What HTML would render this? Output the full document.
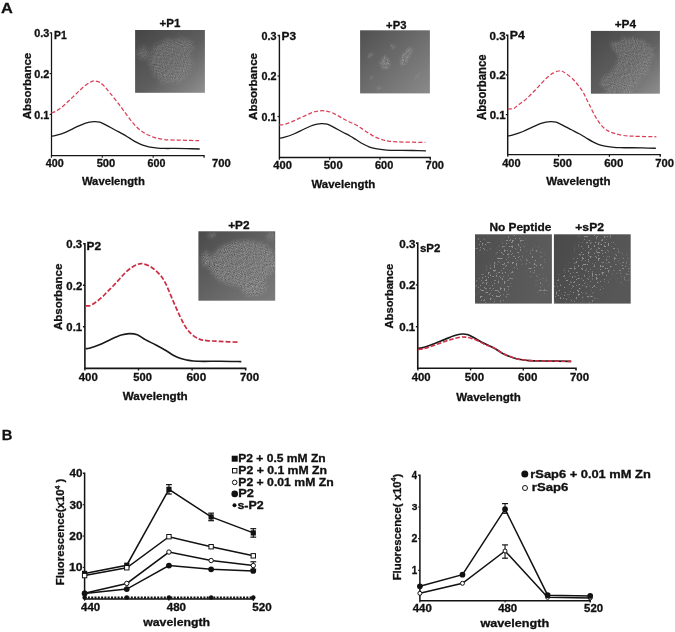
<!DOCTYPE html><html><head><meta charset="utf-8"><style>html,body{margin:0;padding:0;background:#fff;}svg{display:block;will-change:transform;}</style></head><body><svg width="675" height="632" viewBox="0 0 675 632" font-family='"Liberation Sans", sans-serif'><defs><linearGradient id="g1" x1="0" y1="0" x2="1" y2="1"><stop offset="0" stop-color="#454545"/><stop offset="0.55" stop-color="#5e5e5e"/><stop offset="1" stop-color="#909090"/></linearGradient><clipPath id="c1"><rect x="135.1" y="30" width="69.8" height="62.8"/></clipPath><filter id="d1" filterUnits="userSpaceOnUse" x="135.1" y="30" width="69.8" height="62.8" color-interpolation-filters="sRGB"><feTurbulence type="fractalNoise" baseFrequency="0.9" numOctaves="3" seed="1" result="n"/><feColorMatrix in="n" type="matrix" values="1 0 0 0 0  1 0 0 0 0  1 0 0 0 0  0 0 0 0 1" result="n1"/><feConvolveMatrix in="n1" order="3" kernelMatrix="1.0 0 0 0 0 0 0 0 -1.0" divisor="1" bias="0.5" preserveAlpha="true" result="e"/><feColorMatrix in="e" type="matrix" values="0.5 0 0 0 0.31000000000000005  0.5 0 0 0 0.31000000000000005  0.5 0 0 0 0.31000000000000005  0 0 0 0 1" result="g"/><feTurbulence type="fractalNoise" baseFrequency="0.12" numOctaves="2" seed="11" result="lf"/><feDisplacementMap in="SourceGraphic" in2="lf" scale="10" xChannelSelector="R" yChannelSelector="G" result="sd"/><feGaussianBlur in="sd" stdDeviation="2.5" result="m"/><feComposite in="g" in2="m" operator="in"/></filter><linearGradient id="g3" x1="0" y1="0" x2="1" y2="1"><stop offset="0" stop-color="#505050"/><stop offset="1" stop-color="#8a8a8a"/></linearGradient><clipPath id="c3"><rect x="360.1" y="30.3" width="69.8" height="63.1"/></clipPath><filter id="d3" filterUnits="userSpaceOnUse" x="360.1" y="30.3" width="69.8" height="63.1" color-interpolation-filters="sRGB"><feTurbulence type="fractalNoise" baseFrequency="0.9" numOctaves="3" seed="2" result="n"/><feColorMatrix in="n" type="matrix" values="1 0 0 0 0  1 0 0 0 0  1 0 0 0 0  0 0 0 0 1" result="n1"/><feConvolveMatrix in="n1" order="3" kernelMatrix="1.0 0 0 0 0 0 0 0 -1.0" divisor="1" bias="0.5" preserveAlpha="true" result="e"/><feColorMatrix in="e" type="matrix" values="0.5 0 0 0 0.31000000000000005  0.5 0 0 0 0.31000000000000005  0.5 0 0 0 0.31000000000000005  0 0 0 0 1" result="g"/><feTurbulence type="fractalNoise" baseFrequency="0.12" numOctaves="2" seed="12" result="lf"/><feDisplacementMap in="SourceGraphic" in2="lf" scale="3" xChannelSelector="R" yChannelSelector="G" result="sd"/><feGaussianBlur in="sd" stdDeviation="0.8" result="m"/><feComposite in="g" in2="m" operator="in"/></filter><linearGradient id="g4" x1="0" y1="0" x2="1" y2="1"><stop offset="0" stop-color="#474747"/><stop offset="0.55" stop-color="#606060"/><stop offset="1" stop-color="#8e8e8e"/></linearGradient><clipPath id="c4"><rect x="590.9" y="30.9" width="69" height="62.8"/></clipPath><filter id="d4" filterUnits="userSpaceOnUse" x="590.9" y="30.9" width="69" height="62.8" color-interpolation-filters="sRGB"><feTurbulence type="fractalNoise" baseFrequency="0.9" numOctaves="3" seed="3" result="n"/><feColorMatrix in="n" type="matrix" values="1 0 0 0 0  1 0 0 0 0  1 0 0 0 0  0 0 0 0 1" result="n1"/><feConvolveMatrix in="n1" order="3" kernelMatrix="1.0 0 0 0 0 0 0 0 -1.0" divisor="1" bias="0.5" preserveAlpha="true" result="e"/><feColorMatrix in="e" type="matrix" values="0.5 0 0 0 0.31000000000000005  0.5 0 0 0 0.31000000000000005  0.5 0 0 0 0.31000000000000005  0 0 0 0 1" result="g"/><feTurbulence type="fractalNoise" baseFrequency="0.12" numOctaves="2" seed="13" result="lf"/><feDisplacementMap in="SourceGraphic" in2="lf" scale="10" xChannelSelector="R" yChannelSelector="G" result="sd"/><feGaussianBlur in="sd" stdDeviation="1.5" result="m"/><feComposite in="g" in2="m" operator="in"/></filter><linearGradient id="g2" x1="0" y1="0" x2="1" y2="1"><stop offset="0" stop-color="#4a4a4a"/><stop offset="1" stop-color="#7c7c7c"/></linearGradient><clipPath id="c2"><rect x="198.4" y="231.3" width="76.8" height="69.4"/></clipPath><filter id="d2" filterUnits="userSpaceOnUse" x="198.4" y="231.3" width="76.8" height="69.4" color-interpolation-filters="sRGB"><feTurbulence type="fractalNoise" baseFrequency="0.9" numOctaves="3" seed="4" result="n"/><feColorMatrix in="n" type="matrix" values="1 0 0 0 0  1 0 0 0 0  1 0 0 0 0  0 0 0 0 1" result="n1"/><feConvolveMatrix in="n1" order="3" kernelMatrix="1.0 0 0 0 0 0 0 0 -1.0" divisor="1" bias="0.5" preserveAlpha="true" result="e"/><feColorMatrix in="e" type="matrix" values="0.5 0 0 0 0.31000000000000005  0.5 0 0 0 0.31000000000000005  0.5 0 0 0 0.31000000000000005  0 0 0 0 1" result="g"/><feTurbulence type="fractalNoise" baseFrequency="0.12" numOctaves="2" seed="14" result="lf"/><feDisplacementMap in="SourceGraphic" in2="lf" scale="3" xChannelSelector="R" yChannelSelector="G" result="sd"/><feGaussianBlur in="sd" stdDeviation="2" result="m"/><feComposite in="g" in2="m" operator="in"/></filter><linearGradient id="g5" x1="0" y1="0" x2="1" y2="0.3"><stop offset="0" stop-color="#4e4e4e"/><stop offset="1" stop-color="#5c5c5c"/></linearGradient><clipPath id="c5"><rect x="475" y="234.3" width="76.9" height="69.3"/></clipPath><filter id="d5" filterUnits="userSpaceOnUse" x="475" y="234.3" width="76.9" height="69.3" color-interpolation-filters="sRGB"><feTurbulence type="fractalNoise" baseFrequency="0.5" numOctaves="2" seed="5" result="n"/><feColorMatrix in="n" type="matrix" values="0 0 0 0 0.6  0 0 0 0 0.6  0 0 0 0 0.6  12 0 0 0 -7.4" result="g"/><feGaussianBlur in="SourceGraphic" stdDeviation="2.5" result="m"/><feComposite in="g" in2="m" operator="in"/></filter><linearGradient id="g6" x1="0" y1="0" x2="1" y2="0.3"><stop offset="0" stop-color="#494949"/><stop offset="1" stop-color="#575757"/></linearGradient><clipPath id="c6"><rect x="553.9" y="234.3" width="76.8" height="69.3"/></clipPath><filter id="d6" filterUnits="userSpaceOnUse" x="553.9" y="234.3" width="76.8" height="69.3" color-interpolation-filters="sRGB"><feTurbulence type="fractalNoise" baseFrequency="0.5" numOctaves="2" seed="6" result="n"/><feColorMatrix in="n" type="matrix" values="0 0 0 0 0.6  0 0 0 0 0.6  0 0 0 0 0.6  12 0 0 0 -7.4" result="g"/><feGaussianBlur in="SourceGraphic" stdDeviation="2.5" result="m"/><feComposite in="g" in2="m" operator="in"/></filter></defs><rect width="675" height="632" fill="#fff"/>
<text x="1.09" y="12.5" font-size="14.83" font-weight="bold" fill="#111" stroke="#111" stroke-width="0.3" textLength="11.84" lengthAdjust="spacingAndGlyphs">A</text>
<text x="1.71" y="439.5" font-size="14.39" font-weight="bold" fill="#111" stroke="#111" stroke-width="0.3" textLength="10.66" lengthAdjust="spacingAndGlyphs">B</text>
<path d="M49.7,32.8 H51.5 V155.5 H204.1 V157.7" fill="none" stroke="#151515" stroke-width="1.25"/>
<line x1="49.6" y1="114.4" x2="51.5" y2="114.4" stroke="#151515" stroke-width="1.06" />
<line x1="49.6" y1="73.6" x2="51.5" y2="73.6" stroke="#151515" stroke-width="1.06" />
<line x1="51.4" y1="155.5" x2="51.4" y2="157.7" stroke="#151515" stroke-width="1.06" />
<line x1="102.3" y1="155.5" x2="102.3" y2="157.7" stroke="#151515" stroke-width="1.06" />
<line x1="153.2" y1="155.5" x2="153.2" y2="157.7" stroke="#151515" stroke-width="1.06" />
<path d="M51.4,136.23 C52.15,136.11 53.34,136.23 55.88,135.49 C58.42,134.75 63.25,133.16 66.62,131.78 C69.99,130.4 72.92,128.66 76.09,127.21 C79.25,125.76 82.64,124.03 85.6,123.09 C88.57,122.15 91.53,121.73 93.9,121.58 C96.27,121.43 97.84,121.64 99.81,122.19 C101.77,122.74 103.15,123.59 105.71,124.89 C108.27,126.18 112.31,128.46 115.18,129.99 C118.05,131.52 120.52,132.71 122.91,134.07 C125.31,135.43 127.33,136.8 129.53,138.15 C131.74,139.49 133.96,140.97 136.15,142.14 C138.34,143.32 140.57,144.43 142.66,145.2 C144.76,145.98 146.53,146.36 148.72,146.8 C150.91,147.23 153.23,147.54 155.8,147.82 C158.36,148.09 160.93,148.32 164.09,148.43 C167.26,148.54 171.03,148.43 174.78,148.47 C178.53,148.5 182.43,148.54 186.59,148.63 C190.75,148.72 197.53,148.94 199.72,149" fill="none" stroke="#1a1a1a" stroke-width="1.3"/>
<path d="M51.4,112.97 C52.15,112.68 54.13,112.2 55.88,111.22 C57.63,110.24 59.9,108.67 61.89,107.1 C63.87,105.53 65.82,103.61 67.79,101.79 C69.76,99.98 71.73,98.09 73.69,96.2 C75.66,94.32 77.61,92.33 79.6,90.49 C81.58,88.66 83.62,86.67 85.6,85.19 C87.59,83.7 89.94,82.3 91.51,81.6 C93.08,80.9 93.64,80.85 95.02,80.98 C96.4,81.12 98.23,81.51 99.81,82.41 C101.38,83.32 102.9,84.77 104.49,86.41 C106.08,88.06 107.54,90.12 109.32,92.29 C111.11,94.45 113.22,96.92 115.18,99.39 C117.14,101.85 119.24,104.63 121.08,107.1 C122.92,109.57 124.39,111.73 126.22,114.2 C128.06,116.66 130.3,119.72 132.08,121.91 C133.86,124.09 135.12,125.61 136.91,127.29 C138.7,128.97 140.85,130.65 142.82,131.98 C144.78,133.32 146.56,134.3 148.72,135.29 C150.88,136.28 153.23,137.2 155.8,137.9 C158.36,138.6 160.93,139.12 164.09,139.49 C167.26,139.86 171.03,139.97 174.78,140.1 C178.53,140.24 182.54,140.21 186.59,140.31 C190.65,140.41 197.02,140.65 199.11,140.72" fill="none" stroke="#da3f58" stroke-width="1.25" stroke-dasharray="4.1 2.1"/>
<text x="34.27" y="37.42" font-size="11.14" font-weight="bold" fill="#111" stroke="#111" stroke-width="0.3" textLength="15.12" lengthAdjust="spacingAndGlyphs">0.3</text>
<text x="34.27" y="78.24" font-size="11.16" font-weight="bold" fill="#111" stroke="#111" stroke-width="0.3" textLength="15.17" lengthAdjust="spacingAndGlyphs">0.2</text>
<text x="34.27" y="119.04" font-size="11.16" font-weight="bold" fill="#111" stroke="#111" stroke-width="0.3" textLength="15.03" lengthAdjust="spacingAndGlyphs">0.1</text>
<text x="45.84" y="167.29" font-size="10.88" font-weight="bold" fill="#111" stroke="#111" stroke-width="0.3" textLength="17.9" lengthAdjust="spacingAndGlyphs">400</text>
<text x="96.66" y="167.29" font-size="10.88" font-weight="bold" fill="#111" stroke="#111" stroke-width="0.3" textLength="18.6" lengthAdjust="spacingAndGlyphs">500</text>
<text x="147.61" y="167.29" font-size="10.88" font-weight="bold" fill="#111" stroke="#111" stroke-width="0.3" textLength="17.83" lengthAdjust="spacingAndGlyphs">600</text>
<text x="212.12" y="167.29" font-size="10.88" font-weight="bold" fill="#111" stroke="#111" stroke-width="0.3" textLength="18.74" lengthAdjust="spacingAndGlyphs">700</text>
<text x="54.01" y="39.2" font-size="10.9" font-weight="bold" fill="#111" stroke="#111" stroke-width="0.3" textLength="12.68" lengthAdjust="spacingAndGlyphs">P1</text>
<text x="81.89" y="185.18" font-size="11.43" font-weight="bold" fill="#111" stroke="#111" stroke-width="0.3" textLength="62.91" lengthAdjust="spacingAndGlyphs">Wavelength</text>
<text x="30.89" y="119.29" font-size="11.71" font-weight="bold" fill="#111" stroke="#111" stroke-width="0.3" textLength="66.58" lengthAdjust="spacingAndGlyphs" transform="rotate(-90 30.89 119.29)">Absorbance</text>
<path d="M277.6,35.5 H279.4 V157.45 H430.3 V159.65" fill="none" stroke="#151515" stroke-width="1.4"/>
<line x1="277.5" y1="116.5" x2="279.4" y2="116.5" stroke="#151515" stroke-width="1.19" />
<line x1="277.5" y1="76" x2="279.4" y2="76" stroke="#151515" stroke-width="1.19" />
<line x1="279.4" y1="157.45" x2="279.4" y2="159.65" stroke="#151515" stroke-width="1.19" />
<line x1="329.7" y1="157.45" x2="329.7" y2="159.65" stroke="#151515" stroke-width="1.19" />
<line x1="380" y1="157.45" x2="380" y2="159.65" stroke="#151515" stroke-width="1.19" />
<path d="M279.4,138.17 C280.14,138.05 281.32,138.17 283.83,137.44 C286.33,136.7 291.11,135.12 294.44,133.75 C297.77,132.38 300.67,130.65 303.8,129.22 C306.92,127.78 310.27,126.06 313.2,125.13 C316.14,124.19 319.06,123.78 321.4,123.63 C323.74,123.48 325.29,123.69 327.24,124.24 C329.18,124.78 330.54,125.62 333.07,126.91 C335.6,128.2 339.59,130.45 342.43,131.97 C345.26,133.49 347.71,134.67 350.07,136.02 C352.44,137.37 354.43,138.73 356.61,140.07 C358.79,141.41 360.99,142.87 363.15,144.04 C365.31,145.21 367.52,146.31 369.59,147.08 C371.66,147.85 373.41,148.23 375.57,148.66 C377.74,149.09 380.03,149.4 382.57,149.67 C385.1,149.94 387.64,150.17 390.76,150.28 C393.89,150.38 397.62,150.28 401.33,150.32 C405.03,150.35 408.89,150.39 413,150.48 C417.1,150.57 423.81,150.78 425.97,150.84" fill="none" stroke="#1a1a1a" stroke-width="1.3"/>
<path d="M279.4,124.88 C280.15,124.85 282.12,125.08 283.88,124.68 C285.63,124.28 287.93,123.29 289.91,122.49 C291.9,121.7 293.84,120.79 295.8,119.9 C297.76,119.02 299.71,118.09 301.68,117.19 C303.65,116.29 305.63,115.37 307.62,114.52 C309.61,113.67 311.63,112.69 313.6,112.09 C315.58,111.48 317.52,111.11 319.49,110.91 C321.46,110.72 323.45,110.66 325.42,110.91 C327.39,111.16 329.33,111.66 331.31,112.41 C333.29,113.16 335.32,114.36 337.3,115.41 C339.27,116.45 341.13,117.59 343.18,118.69 C345.23,119.78 347.31,120.87 349.57,121.97 C351.82,123.07 354.42,124 356.71,125.29 C359,126.58 361.09,128.25 363.3,129.7 C365.51,131.15 367.76,132.67 369.99,134 C372.22,135.33 374.46,136.68 376.68,137.68 C378.9,138.68 381.1,139.39 383.32,139.99 C385.54,140.59 386.68,140.95 390.01,141.29 C393.34,141.62 397.4,141.83 403.29,142.01 C409.17,142.2 421.65,142.35 425.32,142.42" fill="none" stroke="#da3f58" stroke-width="1.25" stroke-dasharray="4.1 2.1"/>
<text x="261.57" y="39.88" font-size="10.99" font-weight="bold" fill="#111" stroke="#111" stroke-width="0.3" textLength="15.02" lengthAdjust="spacingAndGlyphs">0.3</text>
<text x="261.57" y="80.39" font-size="11.02" font-weight="bold" fill="#111" stroke="#111" stroke-width="0.3" textLength="15.06" lengthAdjust="spacingAndGlyphs">0.2</text>
<text x="261.58" y="120.89" font-size="11.02" font-weight="bold" fill="#111" stroke="#111" stroke-width="0.3" textLength="14.92" lengthAdjust="spacingAndGlyphs">0.1</text>
<text x="273.33" y="168.99" font-size="11.02" font-weight="bold" fill="#111" stroke="#111" stroke-width="0.3" textLength="18.63" lengthAdjust="spacingAndGlyphs">400</text>
<text x="323.85" y="168.99" font-size="11.02" font-weight="bold" fill="#111" stroke="#111" stroke-width="0.3" textLength="18.81" lengthAdjust="spacingAndGlyphs">500</text>
<text x="375" y="168.99" font-size="11.02" font-weight="bold" fill="#111" stroke="#111" stroke-width="0.3" textLength="18.25" lengthAdjust="spacingAndGlyphs">600</text>
<text x="425.53" y="168.99" font-size="11.02" font-weight="bold" fill="#111" stroke="#111" stroke-width="0.3" textLength="18.43" lengthAdjust="spacingAndGlyphs">700</text>
<text x="281.61" y="40.18" font-size="10.71" font-weight="bold" fill="#111" stroke="#111" stroke-width="0.3" textLength="14.52" lengthAdjust="spacingAndGlyphs">P3</text>
<text x="311.49" y="187.58" font-size="11.43" font-weight="bold" fill="#111" stroke="#111" stroke-width="0.3" textLength="63.82" lengthAdjust="spacingAndGlyphs">Wavelength</text>
<text x="257.39" y="119.99" font-size="11.44" font-weight="bold" fill="#111" stroke="#111" stroke-width="0.3" textLength="67.09" lengthAdjust="spacingAndGlyphs" transform="rotate(-90 257.39 119.99)">Absorbance</text>
<path d="M505.9,35.2 H507.7 V154.6 H660.2 V156.8" fill="none" stroke="#151515" stroke-width="1.45"/>
<line x1="505.8" y1="114.6" x2="507.7" y2="114.6" stroke="#151515" stroke-width="1.23" />
<line x1="505.8" y1="74.9" x2="507.7" y2="74.9" stroke="#151515" stroke-width="1.23" />
<line x1="507.8" y1="154.6" x2="507.8" y2="156.8" stroke="#151515" stroke-width="1.23" />
<line x1="558.6" y1="154.6" x2="558.6" y2="156.8" stroke="#151515" stroke-width="1.23" />
<line x1="609.4" y1="154.6" x2="609.4" y2="156.8" stroke="#151515" stroke-width="1.23" />
<path d="M507.8,135.84 C508.55,135.72 509.74,135.85 512.27,135.12 C514.8,134.4 519.63,132.86 522.99,131.51 C526.35,130.17 529.28,128.48 532.44,127.07 C535.6,125.66 538.97,123.97 541.94,123.06 C544.9,122.14 547.86,121.73 550.22,121.59 C552.58,121.44 554.15,121.65 556.11,122.18 C558.08,122.72 559.45,123.54 562,124.8 C564.56,126.07 568.59,128.28 571.45,129.77 C574.31,131.25 576.79,132.41 579.17,133.74 C581.56,135.06 583.58,136.4 585.78,137.71 C587.98,139.02 590.2,140.45 592.38,141.6 C594.57,142.74 596.79,143.82 598.88,144.57 C600.98,145.33 602.75,145.7 604.93,146.12 C607.11,146.55 609.43,146.85 611.99,147.11 C614.55,147.38 617.11,147.6 620.27,147.71 C623.43,147.82 627.2,147.72 630.94,147.75 C634.68,147.78 638.58,147.82 642.72,147.91 C646.87,147.99 653.65,148.21 655.83,148.27" fill="none" stroke="#1a1a1a" stroke-width="1.3"/>
<path d="M507.8,109.24 C508.33,109.18 509.98,109.01 511,108.88 C512.02,108.76 512.74,109.11 513.9,108.49 C515.05,107.86 516.26,106.36 517.91,105.11 C519.56,103.86 521.84,102.55 523.8,100.98 C525.77,99.41 527.73,97.58 529.69,95.7 C531.66,93.82 533.61,91.79 535.59,89.71 C537.57,87.62 539.6,85.27 541.58,83.2 C543.56,81.13 545.5,79 547.47,77.28 C549.45,75.57 551.56,73.96 553.42,72.92 C555.27,71.87 557.14,71.29 558.6,71.01 C560.06,70.73 560.87,70.76 562.16,71.25 C563.44,71.73 564.56,72.62 566.32,73.91 C568.08,75.2 570.83,77.19 572.72,78.99 C574.62,80.79 576.02,82.6 577.7,84.71 C579.38,86.81 581.3,89.2 582.78,91.61 C584.26,94.03 585.32,96.66 586.59,99.2 C587.86,101.73 589.13,104.28 590.4,106.82 C591.67,109.35 592.94,112.07 594.21,114.4 C595.48,116.73 596.56,118.68 598.02,120.79 C599.49,122.91 601.32,125.42 603,127.11 C604.68,128.79 606.18,129.86 608.08,130.92 C609.98,131.97 611.94,132.67 614.38,133.42 C616.82,134.17 619.56,134.94 622.71,135.4 C625.86,135.87 627.66,135.97 633.28,136.2 C638.89,136.43 652.54,136.69 656.39,136.79" fill="none" stroke="#da3f58" stroke-width="1.25" stroke-dasharray="4.1 2.1"/>
<text x="489.64" y="39.78" font-size="10.99" font-weight="bold" fill="#111" stroke="#111" stroke-width="0.3" textLength="16.08" lengthAdjust="spacingAndGlyphs">0.3</text>
<text x="489.64" y="79.49" font-size="11.02" font-weight="bold" fill="#111" stroke="#111" stroke-width="0.3" textLength="16.12" lengthAdjust="spacingAndGlyphs">0.2</text>
<text x="489.65" y="119.19" font-size="11.02" font-weight="bold" fill="#111" stroke="#111" stroke-width="0.3" textLength="15.97" lengthAdjust="spacingAndGlyphs">0.1</text>
<text x="502.13" y="166.79" font-size="11.3" font-weight="bold" fill="#111" stroke="#111" stroke-width="0.3" textLength="18.42" lengthAdjust="spacingAndGlyphs">400</text>
<text x="553.26" y="166.79" font-size="11.3" font-weight="bold" fill="#111" stroke="#111" stroke-width="0.3" textLength="18.6" lengthAdjust="spacingAndGlyphs">500</text>
<text x="604.18" y="166.79" font-size="11.3" font-weight="bold" fill="#111" stroke="#111" stroke-width="0.3" textLength="19.19" lengthAdjust="spacingAndGlyphs">600</text>
<text x="655.32" y="166.79" font-size="11.3" font-weight="bold" fill="#111" stroke="#111" stroke-width="0.3" textLength="18.74" lengthAdjust="spacingAndGlyphs">700</text>
<text x="509.88" y="39" font-size="11.05" font-weight="bold" fill="#111" stroke="#111" stroke-width="0.3" textLength="14.99" lengthAdjust="spacingAndGlyphs">P4</text>
<text x="546.19" y="184.78" font-size="11.43" font-weight="bold" fill="#111" stroke="#111" stroke-width="0.3" textLength="64.32" lengthAdjust="spacingAndGlyphs">Wavelength</text>
<text x="485.68" y="119.98" font-size="11.98" font-weight="bold" fill="#111" stroke="#111" stroke-width="0.3" textLength="65.47" lengthAdjust="spacingAndGlyphs" transform="rotate(-90 485.68 119.98)">Absorbance</text>
<path d="M83.1,243.7 H84.9 V368.35 H245.7 V370.55" fill="none" stroke="#151515" stroke-width="1.6"/>
<line x1="83" y1="326.7" x2="84.9" y2="326.7" stroke="#151515" stroke-width="1.36" />
<line x1="83" y1="285.2" x2="84.9" y2="285.2" stroke="#151515" stroke-width="1.36" />
<line x1="84.9" y1="368.35" x2="84.9" y2="370.55" stroke="#151515" stroke-width="1.36" />
<line x1="138.5" y1="368.35" x2="138.5" y2="370.55" stroke="#151515" stroke-width="1.36" />
<line x1="192.1" y1="368.35" x2="192.1" y2="370.55" stroke="#151515" stroke-width="1.36" />
<path d="M85.7,348.61 C86.3,348.56 86.91,348.95 89.3,348.28 C91.68,347.61 96.45,346.07 100.02,344.59 C103.58,343.11 107.14,341 110.68,339.4 C114.23,337.8 118.19,335.97 121.29,335 C124.39,334.03 126.61,333.64 129.28,333.59 C131.95,333.54 134.65,333.71 137.32,334.71 C139.99,335.71 142.2,337.89 145.31,339.61 C148.42,341.32 152.41,343.1 155.97,345 C159.54,346.9 163.81,349.32 166.69,351.02 C169.58,352.72 171.07,354 173.29,355.21 C175.5,356.42 177.75,357.49 179.99,358.28 C182.22,359.08 184.47,359.53 186.69,359.98 C188.9,360.44 190.39,360.79 193.28,361.02 C196.16,361.26 199.55,361.37 204,361.39 C208.45,361.42 213.75,361.15 219.97,361.19 C226.19,361.22 237.75,361.53 241.3,361.6" fill="none" stroke="#1a1a1a" stroke-width="1.6"/>
<path d="M85.7,305.7 C86.4,305.7 88.19,306.3 89.88,305.7 C91.58,305.1 93.9,303.47 95.89,302.09 C97.87,300.71 99.82,299.18 101.78,297.4 C103.75,295.62 105.71,293.41 107.68,291.42 C109.65,289.44 111.59,287.57 113.58,285.49 C115.56,283.42 117.6,281.14 119.58,278.98 C121.56,276.81 123.5,274.38 125.48,272.5 C127.45,270.62 129.45,269.02 131.42,267.69 C133.4,266.35 135.54,265.17 137.32,264.49 C139.1,263.81 140.11,263.37 142.09,263.62 C144.07,263.87 147.05,264.91 149.22,265.99 C151.39,267.06 153.15,268.43 155.12,270.09 C157.08,271.76 159.36,273.95 161.01,275.99 C162.66,278.02 163.75,279.91 165.03,282.29 C166.31,284.68 167.52,287.63 168.68,290.3 C169.84,292.97 170.78,295.43 172,298.31 C173.22,301.2 174.69,304.61 176.02,307.61 C177.35,310.61 178.66,313.54 179.99,316.32 C181.32,319.11 182.68,321.96 184.01,324.29 C185.34,326.62 186.43,328.43 187.97,330.31 C189.52,332.19 191.28,334.07 193.28,335.58 C195.28,337.1 197.75,338.56 199.98,339.4 C202.21,340.24 203.35,340.27 206.68,340.6 C210.01,340.93 214.54,341.11 219.97,341.39 C225.4,341.67 236.05,342.15 239.27,342.3" fill="none" stroke="#cc2c42" stroke-width="1.7" stroke-dasharray="4.8 2"/>
<text x="66.35" y="248.28" font-size="10.99" font-weight="bold" fill="#111" stroke="#111" stroke-width="0.3" textLength="15.86" lengthAdjust="spacingAndGlyphs">0.3</text>
<text x="66.35" y="289.79" font-size="11.02" font-weight="bold" fill="#111" stroke="#111" stroke-width="0.3" textLength="15.91" lengthAdjust="spacingAndGlyphs">0.2</text>
<text x="66.35" y="331.29" font-size="11.02" font-weight="bold" fill="#111" stroke="#111" stroke-width="0.3" textLength="15.76" lengthAdjust="spacingAndGlyphs">0.1</text>
<text x="78.73" y="381.19" font-size="11.3" font-weight="bold" fill="#111" stroke="#111" stroke-width="0.3" textLength="19.04" lengthAdjust="spacingAndGlyphs">400</text>
<text x="133.36" y="381.19" font-size="11.3" font-weight="bold" fill="#111" stroke="#111" stroke-width="0.3" textLength="18.6" lengthAdjust="spacingAndGlyphs">500</text>
<text x="186.57" y="381.19" font-size="11.3" font-weight="bold" fill="#111" stroke="#111" stroke-width="0.3" textLength="19.61" lengthAdjust="spacingAndGlyphs">600</text>
<text x="239.9" y="381.19" font-size="11.3" font-weight="bold" fill="#111" stroke="#111" stroke-width="0.3" textLength="19.27" lengthAdjust="spacingAndGlyphs">700</text>
<text x="86.6" y="250.2" font-size="10.88" font-weight="bold" fill="#111" stroke="#111" stroke-width="0.3" textLength="14.57" lengthAdjust="spacingAndGlyphs">P2</text>
<text x="122.69" y="400.08" font-size="11.43" font-weight="bold" fill="#111" stroke="#111" stroke-width="0.3" textLength="65.03" lengthAdjust="spacingAndGlyphs">Wavelength</text>
<text x="61.89" y="329.99" font-size="11.3" font-weight="bold" fill="#111" stroke="#111" stroke-width="0.3" textLength="66.28" lengthAdjust="spacingAndGlyphs" transform="rotate(-90 61.89 329.99)">Absorbance</text>
<path d="M415.95,243.1 H417.75 V368.2 H576 V370.4" fill="none" stroke="#151515" stroke-width="1.6"/>
<line x1="415.85" y1="326.7" x2="417.75" y2="326.7" stroke="#151515" stroke-width="1.36" />
<line x1="415.85" y1="284.9" x2="417.75" y2="284.9" stroke="#151515" stroke-width="1.36" />
<line x1="417.9" y1="368.2" x2="417.9" y2="370.4" stroke="#151515" stroke-width="1.36" />
<line x1="470.6" y1="368.2" x2="470.6" y2="370.4" stroke="#151515" stroke-width="1.36" />
<line x1="523.3" y1="368.2" x2="523.3" y2="370.4" stroke="#151515" stroke-width="1.36" />
<path d="M418.16,348.39 C418.8,348.31 419.6,348.58 422.01,347.89 C424.43,347.21 428.91,345.68 432.66,344.3 C436.4,342.92 440.91,341.03 444.46,339.62 C448.01,338.2 450.99,336.75 453.95,335.81 C456.91,334.88 459.86,334.18 462.22,334.01 C464.58,333.85 466.15,334.18 468.12,334.81 C470.1,335.44 471.52,336.44 474.08,337.82 C476.63,339.2 480.02,341.32 483.46,343.09 C486.9,344.85 491.44,346.62 494.74,348.39 C498.03,350.16 499.58,351.98 503.22,353.7 C506.87,355.42 512.16,357.57 516.61,358.72 C521.05,359.87 525.45,360.22 529.89,360.6 C534.32,360.98 536.33,360.89 543.22,361.02 C550.11,361.15 566.54,361.33 571.2,361.39" fill="none" stroke="#1a1a1a" stroke-width="1.7"/>
<path d="M418.16,349.61 C419.6,349.32 423.41,348.87 426.81,347.89 C430.21,346.91 434.62,345.09 438.56,343.71 C442.49,342.33 446.88,340.7 450.42,339.62 C453.96,338.53 457.23,337.6 459.8,337.19 C462.36,336.79 463.82,336.99 465.8,337.19 C467.79,337.39 469.55,337.72 471.71,338.4 C473.87,339.09 476.41,340.21 478.77,341.29 C481.13,342.37 483.22,343.7 485.88,344.88 C488.54,346.07 491.85,346.92 494.74,348.39 C497.63,349.86 499.58,351.98 503.22,353.7 C506.87,355.42 512.16,357.57 516.61,358.72 C521.05,359.87 525.45,360.22 529.89,360.6 C534.32,360.98 536.33,360.89 543.22,361.02 C550.11,361.15 566.54,361.33 571.2,361.39" fill="none" stroke="#d02f45" stroke-width="1.6" stroke-dasharray="4.6 1.9"/>
<text x="399.24" y="247.68" font-size="10.99" font-weight="bold" fill="#111" stroke="#111" stroke-width="0.3" textLength="16.18" lengthAdjust="spacingAndGlyphs">0.3</text>
<text x="399.24" y="289.49" font-size="11.02" font-weight="bold" fill="#111" stroke="#111" stroke-width="0.3" textLength="16.23" lengthAdjust="spacingAndGlyphs">0.2</text>
<text x="399.24" y="331.29" font-size="11.02" font-weight="bold" fill="#111" stroke="#111" stroke-width="0.3" textLength="16.08" lengthAdjust="spacingAndGlyphs">0.1</text>
<text x="411.73" y="380.59" font-size="11.44" font-weight="bold" fill="#111" stroke="#111" stroke-width="0.3" textLength="18.94" lengthAdjust="spacingAndGlyphs">400</text>
<text x="464.85" y="380.59" font-size="11.44" font-weight="bold" fill="#111" stroke="#111" stroke-width="0.3" textLength="19.23" lengthAdjust="spacingAndGlyphs">500</text>
<text x="518.08" y="380.59" font-size="11.44" font-weight="bold" fill="#111" stroke="#111" stroke-width="0.3" textLength="19.3" lengthAdjust="spacingAndGlyphs">600</text>
<text x="569.9" y="380.59" font-size="11.44" font-weight="bold" fill="#111" stroke="#111" stroke-width="0.3" textLength="19.27" lengthAdjust="spacingAndGlyphs">700</text>
<text x="419.9" y="251.79" font-size="11.3" font-weight="bold" fill="#111" stroke="#111" stroke-width="0.3" textLength="20.46" lengthAdjust="spacingAndGlyphs">sP2</text>
<text x="456.29" y="400.6" font-size="11.32" font-weight="bold" fill="#111" stroke="#111" stroke-width="0.3" textLength="64.42" lengthAdjust="spacingAndGlyphs">Wavelength</text>
<text x="393.2" y="328.38" font-size="10.21" font-weight="bold" fill="#111" stroke="#111" stroke-width="0.3" textLength="64.66" lengthAdjust="spacingAndGlyphs" transform="rotate(-90 393.2 328.38)">Absorbance</text>
<text x="159.52" y="26.8" font-size="10.9" font-weight="bold" fill="#111" stroke="#111" stroke-width="0.3" textLength="20.8" lengthAdjust="spacingAndGlyphs">+P1</text>
<text x="386.13" y="28.78" font-size="10.57" font-weight="bold" fill="#111" stroke="#111" stroke-width="0.3" textLength="20.28" lengthAdjust="spacingAndGlyphs">+P3</text>
<text x="614.7" y="28.1" font-size="11.05" font-weight="bold" fill="#111" stroke="#111" stroke-width="0.3" textLength="21.36" lengthAdjust="spacingAndGlyphs">+P4</text>
<text x="228.2" y="229.4" font-size="10.88" font-weight="bold" fill="#111" stroke="#111" stroke-width="0.3" textLength="21.37" lengthAdjust="spacingAndGlyphs">+P2</text>
<text x="489.4" y="230.62" font-size="10.51" font-weight="bold" fill="#111" stroke="#111" stroke-width="0.3" textLength="62.1" lengthAdjust="spacingAndGlyphs">No Peptide</text>
<text x="575.29" y="230.7" font-size="10.59" font-weight="bold" fill="#111" stroke="#111" stroke-width="0.3" textLength="28.7" lengthAdjust="spacingAndGlyphs">+sP2</text>
<rect x="135.1" y="30" width="69.8" height="62.8" fill="url(#g1)"/>
<g clip-path="url(#c1)"><g filter="url(#d1)" opacity="0.38">
<ellipse cx="171.4" cy="61.4" rx="20.94" ry="22.61" transform="rotate(-15 171.4 61.4)" fill="#fff"/>
<ellipse cx="178.38" cy="48.84" rx="15.36" ry="10.05" transform="rotate(-20 178.38 48.84)" fill="#fff"/>
<ellipse cx="142.08" cy="53.86" rx="4.89" ry="5.02" transform="rotate(0 142.08 53.86)" fill="#fff"/>
</g></g>
<rect x="360.1" y="30.3" width="69.8" height="63.1" fill="url(#g3)"/>
<g clip-path="url(#c3)"><g filter="url(#d3)" opacity="0.55">
<ellipse cx="385.23" cy="63.11" rx="4.89" ry="6.31" transform="rotate(0 385.23 63.11)" fill="#fff"/>
<ellipse cx="406.17" cy="56.8" rx="3.49" ry="10.73" transform="rotate(25 406.17 56.8)" fill="#fff"/>
<ellipse cx="370.57" cy="55.54" rx="1.4" ry="3.79" transform="rotate(30 370.57 55.54)" fill="#fff"/>
<ellipse cx="417.34" cy="76.99" rx="1.05" ry="4.42" transform="rotate(35 417.34 76.99)" fill="#fff"/>
<ellipse cx="371.97" cy="77.62" rx="0.84" ry="3.16" transform="rotate(0 371.97 77.62)" fill="#fff"/>
<ellipse cx="379.64" cy="88.35" rx="2.79" ry="1.26" transform="rotate(-20 379.64 88.35)" fill="#fff"/>
<ellipse cx="392.91" cy="46.08" rx="2.09" ry="2.52" transform="rotate(0 392.91 46.08)" fill="#fff"/>
</g></g>
<rect x="590.9" y="30.9" width="69" height="62.8" fill="url(#g4)"/>
<g clip-path="url(#c4)"><g filter="url(#d4)" opacity="0.36">
<polygon points="611.6,43.46 625.4,37.18 642.65,39.69 655.07,49.74 651.62,65.44 640.58,81.14 632.3,93.7 606.08,93.7 599.18,84.28 611.6,69.84 619.88,57.28 611.6,49.74" fill="#fff"/>
</g></g>
<rect x="198.4" y="231.3" width="76.8" height="69.4" fill="url(#g2)"/>
<g clip-path="url(#c2)"><g filter="url(#d2)" opacity="0.52">
<ellipse cx="242.94" cy="263.22" rx="33.79" ry="22.9" transform="rotate(-5 242.94 263.22)" fill="#fff"/>
<ellipse cx="253.7" cy="286.82" rx="13.06" ry="9.72" transform="rotate(0 253.7 286.82)" fill="#fff"/>
<ellipse cx="206.08" cy="259.06" rx="4.61" ry="8.33" transform="rotate(0 206.08 259.06)" fill="#fff"/>
<ellipse cx="271.36" cy="236.85" rx="3.07" ry="4.86" transform="rotate(0 271.36 236.85)" fill="#fff"/>
<ellipse cx="212.22" cy="234.77" rx="3.84" ry="2.43" transform="rotate(0 212.22 234.77)" fill="#fff"/>
</g></g>
<rect x="475" y="234.3" width="76.9" height="69.3" fill="url(#g5)"/>
<g clip-path="url(#c5)"><g filter="url(#d5)" opacity="0.9">
<polygon points="507.3,234.3 525.75,234.3 519.6,265.49 509.61,286.27 505.76,303.6 475,303.6 475,282.81 490.38,265.49" fill="#fff"/>
<ellipse cx="534.98" cy="262.02" rx="9.23" ry="13.86" transform="rotate(0 534.98 262.02)" fill="#fff"/>
<ellipse cx="482.69" cy="244.7" rx="9.23" ry="6.93" transform="rotate(0 482.69 244.7)" fill="#fff"/>
<ellipse cx="542.67" cy="286.27" rx="6.15" ry="6.93" transform="rotate(0 542.67 286.27)" fill="#fff"/>
</g></g>
<rect x="553.9" y="234.3" width="76.8" height="69.3" fill="url(#g6)"/>
<g clip-path="url(#c6)"><g filter="url(#d6)" opacity="0.9">
<polygon points="580.78,234.3 611.5,234.3 619.18,255.09 607.66,282.81 592.3,303.6 553.9,303.6 553.9,282.81 573.1,262.02" fill="#fff"/>
<ellipse cx="623.02" cy="268.95" rx="6.14" ry="13.86" transform="rotate(0 623.02 268.95)" fill="#fff"/>
</g></g>
<path d="M82.9,473.32 H84.6 V598.9 H253.3 V600.7" fill="none" stroke="#111" stroke-width="1.5"/>
<line x1="82.8" y1="567.43" x2="84.6" y2="567.43" stroke="#222" stroke-width="1.1" />
<line x1="82.8" y1="536.06" x2="84.6" y2="536.06" stroke="#222" stroke-width="1.1" />
<line x1="82.8" y1="504.69" x2="84.6" y2="504.69" stroke="#222" stroke-width="1.1" />
<line x1="84.6" y1="598.9" x2="84.6" y2="600.7" stroke="#222" stroke-width="1.1" />
<line x1="168.95" y1="598.9" x2="168.95" y2="600.7" stroke="#222" stroke-width="1.1" />
<text x="69.03" y="571.33" font-size="10.31" font-weight="bold" fill="#111" stroke="#111" stroke-width="0.3" textLength="13.57" lengthAdjust="spacingAndGlyphs">10</text>
<text x="69.39" y="539.96" font-size="10.31" font-weight="bold" fill="#111" stroke="#111" stroke-width="0.3" textLength="13.2" lengthAdjust="spacingAndGlyphs">20</text>
<text x="69.53" y="508.57" font-size="10.29" font-weight="bold" fill="#111" stroke="#111" stroke-width="0.3" textLength="13.05" lengthAdjust="spacingAndGlyphs">30</text>
<text x="69.62" y="477.22" font-size="10.31" font-weight="bold" fill="#111" stroke="#111" stroke-width="0.3" textLength="12.95" lengthAdjust="spacingAndGlyphs">40</text>
<text x="81.03" y="610.8" font-size="10.59" font-weight="bold" fill="#111" stroke="#111" stroke-width="0.3" textLength="19.14" lengthAdjust="spacingAndGlyphs">440</text>
<text x="166.72" y="610.9" font-size="10.59" font-weight="bold" fill="#111" stroke="#111" stroke-width="0.3" textLength="19.35" lengthAdjust="spacingAndGlyphs">480</text>
<text x="252.34" y="610.9" font-size="10.73" font-weight="bold" fill="#111" stroke="#111" stroke-width="0.3" textLength="19.44" lengthAdjust="spacingAndGlyphs">520</text>
<text x="143.24" y="626.28" font-size="10.46" font-weight="bold" fill="#111" stroke="#111" stroke-width="0.3" textLength="66.82" lengthAdjust="spacingAndGlyphs">wavelength</text>
<g transform="translate(64.3,585.16) rotate(-90) scale(1.03,1)"><text x="0" y="0" font-size="11" font-weight="bold" fill="#111" stroke="#111" stroke-width="0.3">Fluorescence(x10<tspan font-size="6.82" dy="-4.62">4</tspan><tspan dy="4.62">&#160;)</tspan></text></g>
<polyline points="84.6,573.39 126.78,565.23 168.95,489.32 211.13,516.92 253.3,532.92" fill="none" stroke="#111" stroke-width="1.5"/>
<line x1="168.95" y1="484.61" x2="168.95" y2="494.02" stroke="#111" stroke-width="1.1" />
<line x1="166.05" y1="484.61" x2="171.85" y2="484.61" stroke="#111" stroke-width="1.2" />
<line x1="166.05" y1="494.02" x2="171.85" y2="494.02" stroke="#111" stroke-width="1.2" />
<line x1="211.13" y1="513.16" x2="211.13" y2="520.69" stroke="#111" stroke-width="1.1" />
<line x1="208.23" y1="513.16" x2="214.03" y2="513.16" stroke="#111" stroke-width="1.2" />
<line x1="208.23" y1="520.69" x2="214.03" y2="520.69" stroke="#111" stroke-width="1.2" />
<line x1="253.3" y1="528.69" x2="253.3" y2="537.16" stroke="#111" stroke-width="1.1" />
<line x1="250.4" y1="528.69" x2="256.2" y2="528.69" stroke="#111" stroke-width="1.2" />
<line x1="250.4" y1="537.16" x2="256.2" y2="537.16" stroke="#111" stroke-width="1.2" />
<polyline points="84.6,575.59 126.78,567.74 168.95,536.69 211.13,546.73 253.3,555.82" fill="none" stroke="#111" stroke-width="1.5"/>
<polyline points="84.6,593.15 126.78,583.43 168.95,552.06 211.13,560.53 253.3,565.55" fill="none" stroke="#111" stroke-width="1.5"/>
<line x1="253.3" y1="561.78" x2="253.3" y2="569.31" stroke="#111" stroke-width="1.1" />
<line x1="250.4" y1="561.78" x2="256.2" y2="561.78" stroke="#111" stroke-width="1.2" />
<line x1="250.4" y1="569.31" x2="256.2" y2="569.31" stroke="#111" stroke-width="1.2" />
<polyline points="84.6,593.47 126.78,589.08 168.95,565.55 211.13,569.31 253.3,570.88" fill="none" stroke="#111" stroke-width="1.5"/>
<rect x="82" y="570.79" width="5.2" height="5.2" fill="#111"/>
<rect x="124.18" y="562.63" width="5.2" height="5.2" fill="#111"/>
<rect x="166.35" y="486.72" width="5.2" height="5.2" fill="#111"/>
<rect x="208.53" y="514.32" width="5.2" height="5.2" fill="#111"/>
<rect x="250.7" y="530.32" width="5.2" height="5.2" fill="#111"/>
<rect x="82.4" y="573.39" width="4.4" height="4.4" fill="#fff" stroke="#111" stroke-width="1"/>
<rect x="124.58" y="565.54" width="4.4" height="4.4" fill="#fff" stroke="#111" stroke-width="1"/>
<rect x="166.75" y="534.49" width="4.4" height="4.4" fill="#fff" stroke="#111" stroke-width="1"/>
<rect x="208.93" y="544.53" width="4.4" height="4.4" fill="#fff" stroke="#111" stroke-width="1"/>
<rect x="251.1" y="553.62" width="4.4" height="4.4" fill="#fff" stroke="#111" stroke-width="1"/>
<circle cx="84.6" cy="593.15" r="2.2" fill="#fff" stroke="#111" stroke-width="1"/>
<circle cx="126.78" cy="583.43" r="2.2" fill="#fff" stroke="#111" stroke-width="1"/>
<circle cx="168.95" cy="552.06" r="2.2" fill="#fff" stroke="#111" stroke-width="1"/>
<circle cx="211.13" cy="560.53" r="2.2" fill="#fff" stroke="#111" stroke-width="1"/>
<circle cx="253.3" cy="565.55" r="2.2" fill="#fff" stroke="#111" stroke-width="1"/>
<circle cx="84.6" cy="593.47" r="2.9" fill="#111"/>
<circle cx="126.78" cy="589.08" r="2.9" fill="#111"/>
<circle cx="168.95" cy="565.55" r="2.9" fill="#111"/>
<circle cx="211.13" cy="569.31" r="2.9" fill="#111"/>
<circle cx="253.3" cy="570.88" r="2.9" fill="#111"/>
<line x1="84.6" y1="597.7" x2="253.3" y2="597.7" stroke="#111" stroke-width="2.3" stroke-dasharray="2 1.3"/>
<circle cx="84.6" cy="597.5" r="2.2" fill="#111"/>
<circle cx="126.78" cy="597.5" r="2.2" fill="#111"/>
<circle cx="168.95" cy="597.5" r="2.2" fill="#111"/>
<circle cx="211.13" cy="597.5" r="2.2" fill="#111"/>
<circle cx="253.3" cy="597.5" r="2.2" fill="#111"/>
<rect x="231.7" y="455.7" width="6" height="6" fill="#111"/>
<text x="238.29" y="462.1" font-size="10.03" font-weight="bold" fill="#111" stroke="#111" stroke-width="0.3" textLength="87.35" lengthAdjust="spacingAndGlyphs">P2 + 0.5 mM Zn</text>
<rect x="232.5" y="468.5" width="4.4" height="4.4" fill="#fff" stroke="#111" stroke-width="1"/>
<text x="238.28" y="474.1" font-size="10.03" font-weight="bold" fill="#111" stroke="#111" stroke-width="0.3" textLength="88.78" lengthAdjust="spacingAndGlyphs">P2 + 0.1 mM Zn</text>
<circle cx="234.7" cy="482.4" r="2.3" fill="#fff" stroke="#111" stroke-width="1"/>
<text x="238.28" y="485.8" font-size="10.03" font-weight="bold" fill="#111" stroke="#111" stroke-width="0.3" textLength="95.37" lengthAdjust="spacingAndGlyphs">P2 + 0.01 mM Zn</text>
<circle cx="234.7" cy="493.9" r="3.3" fill="#111"/>
<text x="238.24" y="497.4" font-size="10.17" font-weight="bold" fill="#111" stroke="#111" stroke-width="0.3" textLength="15.67" lengthAdjust="spacingAndGlyphs">P2</text>
<circle cx="234.5" cy="505.3" r="2" fill="#111"/>
<text x="237.46" y="508.7" font-size="10.03" font-weight="bold" fill="#111" stroke="#111" stroke-width="0.3" textLength="26.23" lengthAdjust="spacingAndGlyphs">s-P2</text>
<path d="M418.2,475.32 H419.9 V600.8 H590.2 V602.6" fill="none" stroke="#111" stroke-width="1.5"/>
<line x1="418.1" y1="570.33" x2="419.9" y2="570.33" stroke="#222" stroke-width="1.1" />
<line x1="418.1" y1="538.66" x2="419.9" y2="538.66" stroke="#222" stroke-width="1.1" />
<line x1="418.1" y1="506.99" x2="419.9" y2="506.99" stroke="#222" stroke-width="1.1" />
<line x1="419.9" y1="600.8" x2="419.9" y2="602.6" stroke="#222" stroke-width="1.1" />
<line x1="505.05" y1="600.8" x2="505.05" y2="602.6" stroke="#222" stroke-width="1.1" />
<text x="411.78" y="573.93" font-size="10.17" font-weight="bold" fill="#111" stroke="#111" stroke-width="0.3" textLength="5.5" lengthAdjust="spacingAndGlyphs">1</text>
<text x="411.53" y="542.26" font-size="10.03" font-weight="bold" fill="#111" stroke="#111" stroke-width="0.3" textLength="5.89" lengthAdjust="spacingAndGlyphs">2</text>
<text x="411.66" y="510.48" font-size="9.87" font-weight="bold" fill="#111" stroke="#111" stroke-width="0.3" textLength="5.71" lengthAdjust="spacingAndGlyphs">3</text>
<text x="411.76" y="478.92" font-size="10.17" font-weight="bold" fill="#111" stroke="#111" stroke-width="0.3" textLength="5.3" lengthAdjust="spacingAndGlyphs">4</text>
<text x="412.73" y="612.4" font-size="10.17" font-weight="bold" fill="#111" stroke="#111" stroke-width="0.3" textLength="19.04" lengthAdjust="spacingAndGlyphs">440</text>
<text x="498.23" y="612.3" font-size="10.17" font-weight="bold" fill="#111" stroke="#111" stroke-width="0.3" textLength="18.94" lengthAdjust="spacingAndGlyphs">480</text>
<text x="584.05" y="612.2" font-size="10.31" font-weight="bold" fill="#111" stroke="#111" stroke-width="0.3" textLength="19.02" lengthAdjust="spacingAndGlyphs">520</text>
<text x="480.44" y="626.76" font-size="10.57" font-weight="bold" fill="#111" stroke="#111" stroke-width="0.3" textLength="68.75" lengthAdjust="spacingAndGlyphs">wavelength</text>
<g transform="translate(400.9,580.36) rotate(-90) scale(1.05,1)"><text x="0" y="0" font-size="10.8" font-weight="bold" fill="#111" stroke="#111" stroke-width="0.3">Fluorescence( x10<tspan font-size="6.7" dy="-4.54">4</tspan><tspan dy="4.54">)</tspan></text></g>
<polyline points="419.9,586.3 462.48,574.7 505.05,509.2 547.63,595.2 590.2,595.9" fill="none" stroke="#111" stroke-width="1.5"/>
<polyline points="419.9,593.3 462.48,583.3 505.05,551 547.63,597.3 590.2,597.9" fill="none" stroke="#111" stroke-width="1.5"/>
<line x1="505.05" y1="503.6" x2="505.05" y2="513.3" stroke="#111" stroke-width="1.1" />
<line x1="502.05" y1="503.6" x2="508.05" y2="503.6" stroke="#111" stroke-width="1.2" />
<line x1="502.05" y1="513.3" x2="508.05" y2="513.3" stroke="#111" stroke-width="1.2" />
<line x1="505.05" y1="544.9" x2="505.05" y2="558.2" stroke="#111" stroke-width="1.1" />
<line x1="502.05" y1="544.9" x2="508.05" y2="544.9" stroke="#111" stroke-width="1.2" />
<line x1="502.05" y1="558.2" x2="508.05" y2="558.2" stroke="#111" stroke-width="1.2" />
<circle cx="419.9" cy="593.3" r="2" fill="#fff" stroke="#111" stroke-width="1"/>
<circle cx="462.48" cy="583.3" r="2" fill="#fff" stroke="#111" stroke-width="1"/>
<circle cx="505.05" cy="551" r="2" fill="#fff" stroke="#111" stroke-width="1"/>
<circle cx="547.63" cy="597.3" r="2" fill="#fff" stroke="#111" stroke-width="1"/>
<circle cx="590.2" cy="597.9" r="2" fill="#fff" stroke="#111" stroke-width="1"/>
<circle cx="419.9" cy="586.3" r="2.85" fill="#111"/>
<circle cx="462.48" cy="574.7" r="2.85" fill="#111"/>
<circle cx="505.05" cy="509.2" r="2.85" fill="#111"/>
<circle cx="547.63" cy="595.2" r="2.85" fill="#111"/>
<circle cx="590.2" cy="595.9" r="2.85" fill="#111"/>
<circle cx="524.8" cy="473.9" r="3.5" fill="#111"/>
<circle cx="525" cy="488" r="2.5" fill="#fff" stroke="#111" stroke-width="1"/>
<text x="530.35" y="477.75" font-size="10.38" font-weight="bold" fill="#111" stroke="#111" stroke-width="0.3" textLength="120.45" lengthAdjust="spacingAndGlyphs">rSap6 + 0.01 mM Zn</text>
<text x="531.84" y="491.2" font-size="10.6" font-weight="bold" fill="#111" stroke="#111" stroke-width="0.3" textLength="36.44" lengthAdjust="spacingAndGlyphs">rSap6</text></svg></body></html>
